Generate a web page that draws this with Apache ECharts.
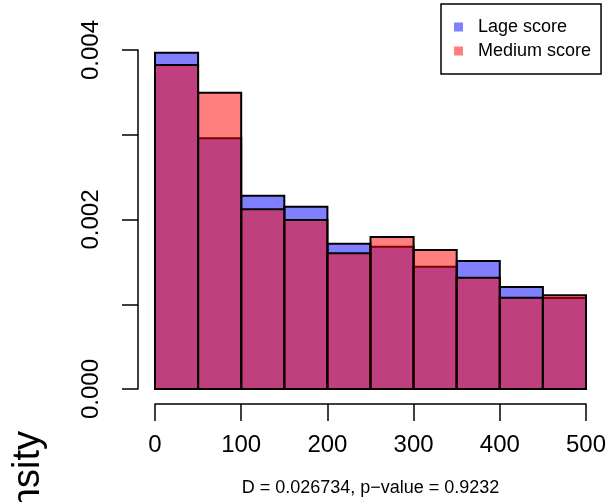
<!DOCTYPE html>
<html>
<head>
<meta charset="utf-8">
<script src="https://cdn.jsdelivr.net/npm/echarts@6/dist/echarts.min.js"></script>
<style>
  html, body { margin: 0; padding: 0; background: #ffffff; }
  #chart { width: 610px; height: 502px; }
</style>
</head>
<body>
<div id="chart"></div>
<script>
// Histogram bins (width 50) and densities for the two score groups
const binStarts = [0, 50, 100, 150, 200, 250, 300, 350, 400, 450];
const binWidth = 50;
const lageDensity   = [0.003968, 0.002958, 0.002281, 0.002151, 0.001715, 0.001679, 0.001443, 0.001510, 0.001204, 0.001074];
const mediumDensity = [0.003823, 0.003496, 0.002120, 0.001994, 0.001601, 0.001794, 0.001640, 0.001313, 0.001077, 0.001106];
const seriesNames = ['Lage score', 'Medium score'];
const xTicks = [0, 100, 200, 300, 400, 500];
const subtitle = 'D = 0.026734, p\u2212value = 0.9232';
const yTitle = 'Density';

const FONT = '"Liberation Sans", Arial, Helvetica, sans-serif';

function toBins(values) {
  return values.map((d, i) => [binStarts[i], binStarts[i] + binWidth, d]);
}

function renderBin(params, api) {
  const p0 = api.coord([api.value(0), 0]);
  const p1 = api.coord([api.value(1), api.value(2)]);
  return {
    type: 'rect',
    shape: { x: p0[0], y: p1[1], width: p1[0] - p0[0], height: p0[1] - p1[1] },
    style: { fill: api.visual('color'), stroke: '#000000', lineWidth: 2 }
  };
}

const chart = echarts.init(document.getElementById('chart'), null, { renderer: 'canvas' });

chart.setOption({
  animation: false,
  backgroundColor: '#ffffff',
  textStyle: { fontFamily: FONT },
  grid: { left: 155, width: 431, top: 50, height: 339, containLabel: false },
  xAxis: {
    type: 'value',
    min: xTicks[0],
    max: xTicks[xTicks.length - 1],
    interval: 100,
    offset: 15,
    splitLine: { show: false },
    axisLine: { show: true, onZero: false, lineStyle: { color: '#000', width: 1.5 } },
    axisTick: { show: true, length: 17, lineStyle: { color: '#000', width: 1.5 } },
    axisLabel: { color: '#000', fontSize: 24, fontFamily: FONT, margin: 29 },
    name: subtitle,
    nameLocation: 'middle',
    nameGap: 75,
    nameTextStyle: { color: '#000', fontSize: 18, fontFamily: FONT }
  },
  yAxis: {
    type: 'value',
    min: 0,
    max: 0.004,
    interval: 0.001,
    offset: 17,
    splitLine: { show: false },
    axisLine: { show: true, onZero: false, lineStyle: { color: '#000', width: 1.5 } },
    axisTick: { show: true, length: 16, lineStyle: { color: '#000', width: 1.5 } },
    axisLabel: {
      color: '#000', fontSize: 24, fontFamily: FONT, rotate: 90, margin: 35,
      formatter: function (v) {
        const k = Math.round(v * 1000);
        return k % 2 === 0 ? (k / 1000).toFixed(3) : '';
      }
    }
  },
  legend: {
    orient: 'vertical',
    left: 441,
    top: 4,
    padding: [14, 10, 14, 13],
    itemGap: 6,
    itemWidth: 9,
    itemHeight: 9,
    icon: 'rect',
    borderColor: '#000',
    borderWidth: 1.5,
    borderRadius: 0,
    itemStyle: { borderWidth: 0 },
    textStyle: { color: '#000', fontSize: 18, fontFamily: FONT, lineHeight: 18, padding: [0, 0, 0, 10] },
    data: seriesNames
  },
  graphic: [{
    type: 'text',
    x: 48,
    y: 431,
    rotation: Math.PI / 2,
    style: {
      text: yTitle,
      fill: '#000',
      font: '38px ' + FONT,
      align: 'right',
      verticalAlign: 'bottom'
    }
  }],
  series: [
    {
      name: seriesNames[0],
      type: 'custom',
      renderItem: renderBin,
      itemStyle: { color: 'rgba(0,0,255,0.5)' },
      encode: { x: [0, 1], y: 2 },
      data: toBins(lageDensity)
    },
    {
      name: seriesNames[1],
      type: 'custom',
      renderItem: renderBin,
      itemStyle: { color: 'rgba(255,0,0,0.5)' },
      encode: { x: [0, 1], y: 2 },
      data: toBins(mediumDensity)
    }
  ]
});
</script>
</body>
</html>
